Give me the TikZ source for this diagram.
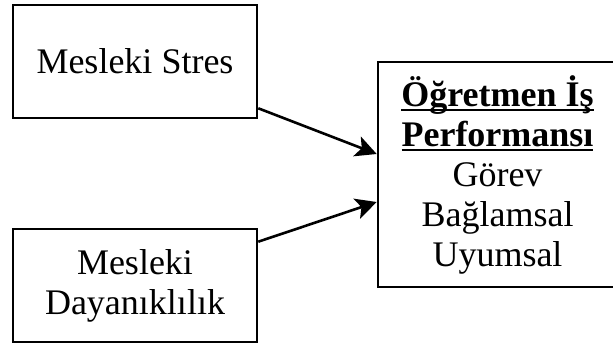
\documentclass[tikz,border=0pt]{standalone}
\usepackage{fontspec}
\setmainfont{Liberation Serif}
\usetikzlibrary{arrows.meta,calc}
% underline that sits just below the baseline, independent of descenders
\newcommand\barunder[1]{\setbox0\hbox{#1}\rlap{\rule[-4.5pt]{\wd0}{2pt}}\box0}
\begin{document}
\begin{tikzpicture}[x=1pt,y=1pt,
  box/.style={draw, line width=2.6pt, align=center, inner sep=0pt,
    font=\fontsize{36}{40}\selectfont},
  link/.style={line width=2.6pt, -{Stealth[length=21pt,width=21pt,inset=5pt]}}]
\useasboundingbox (0,0) rectangle (613,345);
\node[box, minimum width=244pt, minimum height=113pt] (stres) at (135,283.5) {Mesleki Stres};
\node[box, minimum width=244pt, minimum height=113pt] (dayan) at (135,59.5) {Mesleki\\Dayanıklılık};
\node[box, minimum width=239pt, minimum height=225pt] (perf) at (497.5,170.5)
  {\textbf{\barunder{Öğretmen İş}}\\\textbf{\barunder{Performansı}}\\Görev\\Bağlamsal\\Uyumsal};
\draw[link] ($(stres.south east)+(0,11)$) -- ($(perf.west)+(0,20.5)$);
\draw[link] ($(dayan.north east)+(0,-14)$) -- ($(perf.west)+(0,-27.5)$);
\end{tikzpicture}
\end{document}
